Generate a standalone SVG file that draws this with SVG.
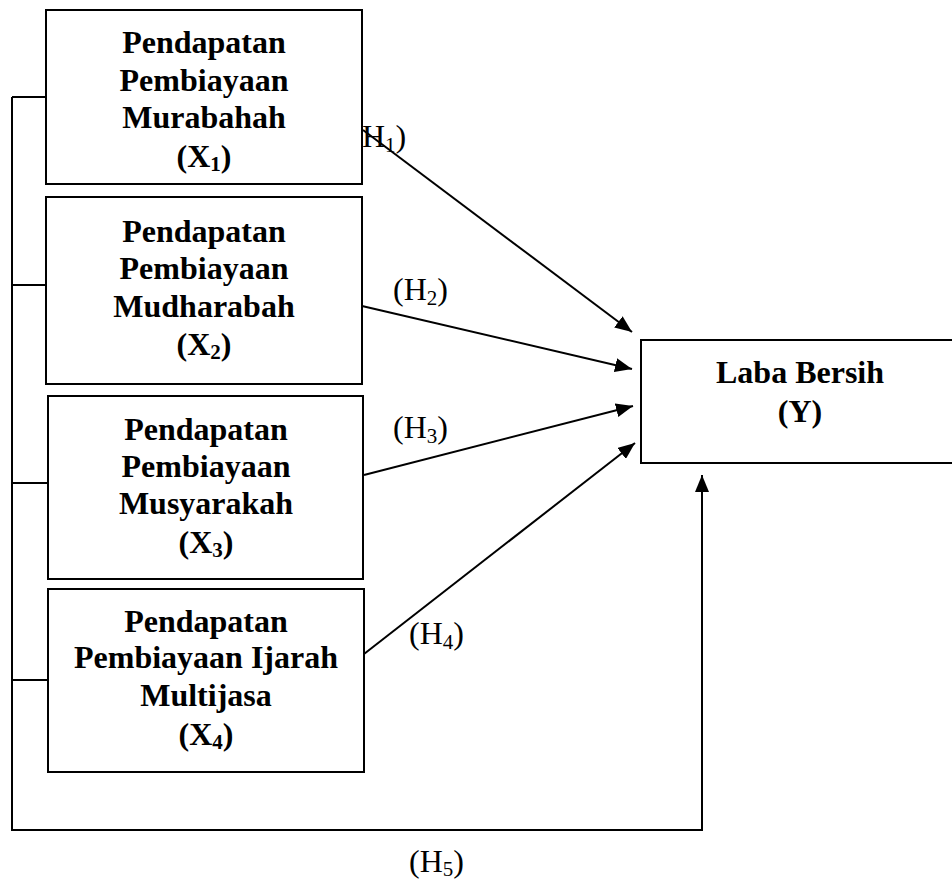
<svg xmlns="http://www.w3.org/2000/svg" width="952" height="884" viewBox="0 0 952 884">
<style>
.box{fill:#fff;stroke:#000;stroke-width:2}
.t{font-family:"Liberation Serif","Times New Roman",serif;font-size:32px;font-weight:bold;text-anchor:middle;fill:#000}
.h{font-family:"Liberation Serif","Times New Roman",serif;font-size:32px;fill:#000}
.sub{font-size:21px}
.ln{fill:none;stroke:#000;stroke-width:2}
</style>
<defs>
<marker id="arr" markerUnits="userSpaceOnUse" markerWidth="18" markerHeight="14" refX="17" refY="7" orient="auto">
<path d="M0,0 L17,7 L0,14 z" fill="#000"/>
</marker>
</defs>
<g id="connectors">
<path class="ln" d="M12,97 L12,830 L702,830"/>
<line class="ln" x1="12" y1="97" x2="46" y2="97"/>
<line class="ln" x1="12" y1="285" x2="46" y2="285"/>
<line class="ln" x1="12" y1="483" x2="48" y2="483"/>
<line class="ln" x1="12" y1="680" x2="48" y2="680"/>
<line class="ln" x1="702" y1="831" x2="702" y2="475" marker-end="url(#arr)"/>
<line class="ln" x1="363" y1="130" x2="632" y2="332" marker-end="url(#arr)"/>
<line class="ln" x1="362" y1="306" x2="632" y2="369" marker-end="url(#arr)"/>
<line class="ln" x1="364" y1="475" x2="633" y2="406" marker-end="url(#arr)"/>
<line class="ln" x1="364" y1="654" x2="635" y2="443" marker-end="url(#arr)"/>
</g>
<g id="labels">
<text class="h" x="362" y="147">H<tspan class="sub" dy="5">1</tspan><tspan dy="-5">)</tspan></text>
<text class="h" x="393" y="300">(H<tspan class="sub" dy="5">2</tspan><tspan dy="-5">)</tspan></text>
<text class="h" x="393" y="438">(H<tspan class="sub" dy="5">3</tspan><tspan dy="-5">)</tspan></text>
<text class="h" x="409" y="644">(H<tspan class="sub" dy="5">4</tspan><tspan dy="-5">)</tspan></text>
<text class="h" x="409" y="872">(H<tspan class="sub" dy="4">5</tspan><tspan dy="-4">)</tspan></text>
</g>
<g id="x1">
<rect class="box" x="46" y="10" width="316" height="174"/>
<text class="t" x="204" y="53">Pendapatan</text>
<text class="t" x="204" y="91">Pembiayaan</text>
<text class="t" x="204" y="128">Murabahah</text>
<text class="t" x="204" y="167">(X<tspan class="sub" dy="4">1</tspan><tspan dy="-4">)</tspan></text>
</g>
<g id="x2">
<rect class="box" x="46" y="197" width="316" height="187"/>
<text class="t" x="204" y="242">Pendapatan</text>
<text class="t" x="204" y="279">Pembiayaan</text>
<text class="t" x="204" y="317">Mudharabah</text>
<text class="t" x="204" y="355">(X<tspan class="sub" dy="4">2</tspan><tspan dy="-4">)</tspan></text>
</g>
<g id="x3">
<rect class="box" x="48" y="396" width="315" height="183"/>
<text class="t" x="206" y="440">Pendapatan</text>
<text class="t" x="206" y="477">Pembiayaan</text>
<text class="t" x="206" y="514">Musyarakah</text>
<text class="t" x="206" y="553">(X<tspan class="sub" dy="4">3</tspan><tspan dy="-4">)</tspan></text>
</g>
<g id="x4">
<rect class="box" x="48" y="589" width="316" height="183"/>
<text class="t" x="206" y="632">Pendapatan</text>
<text class="t" x="206" y="668">Pembiayaan Ijarah</text>
<text class="t" x="206" y="706">Multijasa</text>
<text class="t" x="206" y="745">(X<tspan class="sub" dy="4">4</tspan><tspan dy="-4">)</tspan></text>
</g>
<g id="y">
<rect class="box" x="641" y="340" width="318" height="123"/>
<text class="t" x="800" y="383">Laba Bersih</text>
<text class="t" x="800" y="422">(Y)</text>
</g>
</svg>
